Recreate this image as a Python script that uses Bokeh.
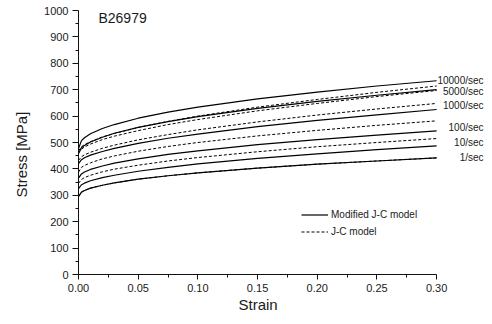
from bokeh.plotting import figure
from bokeh.models import FixedTicker, Label, Legend, LegendItem, Range1d, NumeralTickFormatter, Title
from bokeh.embed import file_html
from bokeh.resources import INLINE
from bokeh.core.properties import value

# ---- data ----
strain = [0, 0.0025, 0.005, 0.01, 0.02, 0.03, 0.05, 0.075, 0.1, 0.15, 0.2, 0.25, 0.3]

# Modified J-C model (solid)
mjc_1 = [295, 312, 318, 327, 338, 347, 361, 374, 385, 403, 418, 430, 442]
mjc_10 = [325, 340, 346, 355, 367, 376, 391, 406, 419, 440, 457, 473, 487]
mjc_100 = [365, 381, 388, 398, 411, 422, 438, 455, 468, 492, 511, 528, 544]
mjc_1000 = [420, 435, 442, 452, 466, 478, 497, 516, 532, 560, 584, 605, 625]
mjc_5000 = [458, 480, 489, 502, 520, 535, 557, 579, 598, 629, 656, 679, 700]
mjc_10000 = [477, 507, 518, 533, 553, 568, 592, 615, 634, 665, 691, 714, 734]

# J-C model (dotted)
jc_1 = [295, 312, 318, 327, 338, 347, 361, 374, 385, 403, 418, 430, 442]
jc_10 = [345, 360, 367, 376, 389, 399, 414, 430, 443, 465, 484, 500, 515]
jc_100 = [388, 406, 413, 423, 438, 449, 467, 485, 500, 525, 546, 565, 582]
jc_1000 = [432, 446, 453, 463, 478, 490, 510, 530, 548, 578, 604, 627, 648]
jc_5000 = [460, 475, 483, 494, 511, 524, 545, 568, 587, 620, 648, 674, 697]
jc_10000 = [468, 484, 492, 503, 521, 534, 557, 580, 600, 634, 663, 690, 714]

rate_labels = ["10000/sec", "5000/sec", "1000/sec", "100/sec", "10/sec", "1/sec"]
rate_label_y = [735, 695, 641, 555, 499, 445]

x_ticks = [0.0, 0.05, 0.10, 0.15, 0.20, 0.25, 0.30]
x_minor = [0.025, 0.075, 0.125, 0.175, 0.225, 0.275]
y_ticks = [0, 100, 200, 300, 400, 500, 600, 700, 800, 900, 1000]
y_minor = [50, 150, 250, 350, 450, 550, 650, 750, 850, 950]

FONT = "Liberation Sans"
TXT = "#1a1a1a"

p = figure(width=484, height=316, output_backend="svg", toolbar_location=None,
           x_range=Range1d(0, 0.3401), y_range=Range1d(0, 1000))
p.min_border_left = 77
p.min_border_right = 0
p.min_border_top = 10
p.min_border_bottom = 42
p.outline_line_color = None
p.grid.visible = False
p.background_fill_color = "white"
p.border_fill_color = "white"

# axes
p.xaxis.bounds = (0, 0.3)
p.yaxis.bounds = (0, 1000)
p.xaxis.ticker = FixedTicker(ticks=x_ticks, minor_ticks=x_minor)
p.yaxis.ticker = FixedTicker(ticks=y_ticks, minor_ticks=y_minor)
p.xaxis.formatter = NumeralTickFormatter(format="0.00")
for ax in (p.xaxis, p.yaxis):
    ax.axis_line_color = "#111111"
    ax.axis_line_width = 1
    ax.major_tick_line_color = "#111111"
    ax.minor_tick_line_color = "#111111"
    ax.major_tick_in = 0
    ax.minor_tick_in = 0
    ax.minor_tick_out = 3
    ax.major_label_text_font = FONT
    ax.major_label_text_font_size = "11px"
    ax.major_label_text_color = TXT
    ax.major_label_standoff = 4
p.xaxis.major_tick_out = 5
p.yaxis.major_tick_out = 6

# axis titles (as side titles so they can be offset like the reference)
p.add_layout(Title(text="Strain", align="left", offset=160, standoff=3,
                   vertical_align="top", text_font=FONT, text_font_size="15px",
                   text_font_style="normal", text_color=TXT), "below")
p.add_layout(Title(text="Stress [MPa]", align="left", offset=77, standoff=22,
                   vertical_align="middle", text_font=FONT, text_font_size="15px",
                   text_font_style="normal", text_color=TXT), "left")

# curves
solid_series = [mjc_1, mjc_10, mjc_100, mjc_1000, mjc_5000, mjc_10000]
dotted_series = [jc_1, jc_10, jc_100, jc_1000, jc_5000, jc_10000]
r_solid = None
r_dot = None
for ys in solid_series:
    r_solid = p.line(strain, ys, line_color="black", line_width=1.2)
for ys in dotted_series:
    r_dot = p.line(strain, ys, line_color="black", line_width=1, line_dash="3 2")

# rate labels
p.text(x=[0.3393] * len(rate_labels), y=rate_label_y, text=rate_labels,
       text_align="right", text_baseline="middle",
       text_font=value(FONT), text_font_size=value("10px"), text_color=TXT)

# sample id
p.add_layout(Label(x=0.0167, y=972, text="B26979", text_font=FONT,
                   text_font_size="14px", text_color=TXT,
                   text_align="left", text_baseline="middle"))

legend = Legend(items=[LegendItem(label="Modified J-C model", renderers=[r_solid]),
                       LegendItem(label="J-C model", renderers=[r_dot])],
                location=(223, 34.5), margin=0, padding=0, spacing=0,
                glyph_width=27, glyph_height=17, label_height=17, label_standoff=3,
                label_text_font=FONT, label_text_font_size="10px", label_text_color=TXT,
                background_fill_alpha=0, border_line_color=None)
p.add_layout(legend)

open("out.html", "w").write(file_html(p, INLINE))
